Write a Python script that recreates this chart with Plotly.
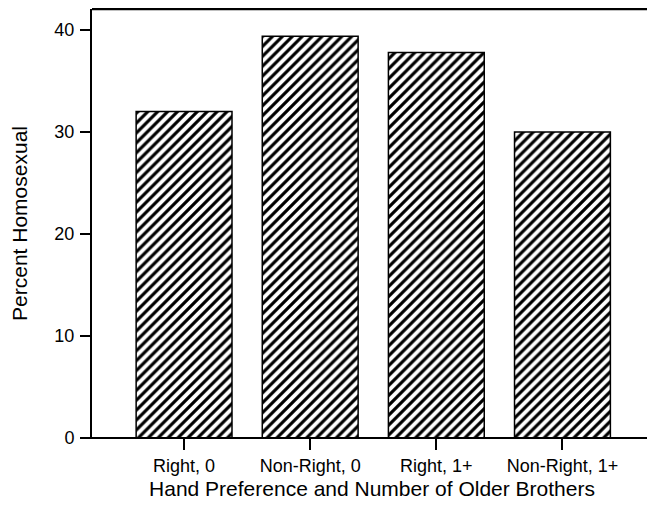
import plotly.graph_objects as go

categories = ["Right, 0", "Non-Right, 0", "Right, 1+", "Non-Right, 1+"]
percent_homosexual = [32.0, 39.4, 37.8, 30.0]
y_ticks = [0, 10, 20, 30, 40]

fig = go.Figure()
fig.add_trace(go.Bar(
    x=categories,
    y=percent_homosexual,
    width=0.76,
    marker=dict(
        color="white",
        line=dict(color="black", width=1.5),
        pattern=dict(shape="/", size=7, solidity=0.45, fgcolor="black",
                     bgcolor="white", fgopacity=1, fillmode="replace"),
    ),
    showlegend=False,
))

font_family = "Liberation Sans, Arial, Helvetica, sans-serif"

# page body has an 8px margin, so the figure is sized to fit inside the window
fig.update_layout(
    width=647, height=499,
    margin=dict(l=84, r=3, t=1, b=69),
    plot_bgcolor="white", paper_bgcolor="white",
    font=dict(family=font_family, color="black", size=18),
    xaxis=dict(
        range=[-0.73, 3.71],
        showline=False,
        ticks="outside", ticklen=11, tickwidth=1.5, tickcolor="black",
        tickfont=dict(size=18),
        showgrid=False, zeroline=False,
        title=dict(text="Hand Preference and Number of Older Brothers", font=dict(size=21), standoff=6),
    ),
    yaxis=dict(
        range=[0, 42.06],
        tickvals=y_ticks,
        showline=True, linecolor="black", linewidth=2,
        ticks="outside", ticklen=10, tickwidth=1.5, tickcolor="black",
        tickfont=dict(size=18),
        ticklabelstandoff=2,
        showgrid=False, zeroline=False,
        title=dict(text="Percent Homosexual", font=dict(size=21), standoff=22),
    ),
    shapes=[
        # x axis line extending past the y axis
        dict(type="line", xref="paper", yref="paper", x0=-0.021, x1=1, y0=0, y1=0,
             line=dict(color="black", width=2)),
        # top border
        dict(type="line", xref="paper", yref="paper", x0=0, x1=1, y0=1, y1=1,
             line=dict(color="black", width=2.5)),
        # right border
        dict(type="line", xref="paper", yref="paper", x0=1, x1=1, y0=0, y1=1,
             line=dict(color="black", width=1)),
    ],
)

fig.write_html("out.html")
